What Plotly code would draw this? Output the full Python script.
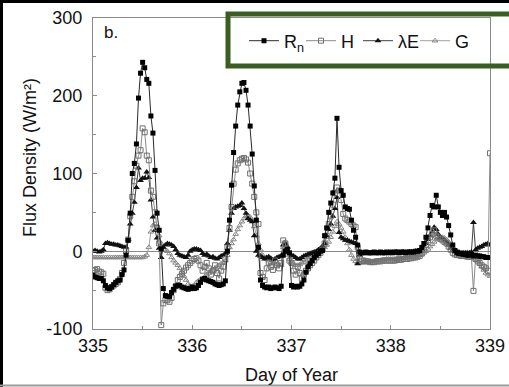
import plotly.graph_objects as go

# ---------------- data (half-hourly, day 335.0 .. 339.0) ----------------
rn_335 = [-31,-33,-34,-35,-35,-38,-44,-47,-48,-46,-43,-40,-38,-37,-30,-24,-5,14,49,100,113,138,197,229,243,236,221,216,174,152,104,49,27,3,-48,-57,-58,-58,-53,-49,-45,-44,-44,-46,-47,-48,-49,-48]
rn_336 = [-46,-48,-47,-44,-40,-36,-35,-37,-38,-39,-40,-42,-43,-44,-43,-42,-38,0,40,85,127,161,188,205,216,217,207,188,161,125,84,40,5,-37,-44,-46,-47,-46,-48,-47,-46,-47,-48,-45,-5,0,2,-2]
rn_337 = [-44,-46,-45,-46,-45,-42,-37,-27,-20,-16,-12,-8,-5,-3,0,1,20,30,50,62,75,94,171,108,78,72,57,55,54,40,27,18,8,-1,-2,-2,-1,-2,-2,-2,-1,-2,-2,-1,-2,-2,-1,-2]
rn_338 = [-1,-2,-1,-1,-2,-1,-1,-2,-1,-1,-1,-1,0,0,1,5,10,18,30,46,59,57,72,57,50,46,50,44,33,21,8,1,-2,-3,-3,-4,-4,-5,-5,-4,-6,-5,-6,-6,-7,-7,-8,-8]
rn_end = [-8]

h_335 = [-25,-24,-23,-26,-27,-29,-47,-50,-49,-46,-44,-42,-40,-36,-28,-15,0,15,45,70,90,110,123,130,158,153,123,117,78,70,50,30,10,-95,-67,-63,-63,-65,-60,-50,-45,-37,-33,-29,-25,-21,-18,-15]
h_336 = [-12,-10,-9,-12,-18,-25,-20,-15,-22,-30,-25,-18,-28,-35,-25,-20,-10,5,30,57,87,105,113,117,119,120,118,114,100,87,70,50,35,-28,-33,-37,-22,-15,-20,-24,-12,-18,-22,-15,14,10,-3,-12]
h_337 = [-15,-25,-30,-20,-28,-35,-30,-25,-22,-18,-15,-12,-8,-5,-2,2,10,20,35,45,60,75,82,78,66,48,42,40,38,35,33,31,5,-10,-12,-12,-13,-13,-14,-14,-14,-13,-13,-13,-12,-12,-12,-12]
h_338 = [-12,-12,-12,-11,-11,-11,-10,-10,-10,-9,-9,-8,-8,-7,-6,-3,2,8,14,18,22,27,20,18,16,14,12,10,6,2,-2,-4,-5,-5,-6,-6,-6,-7,-7,-7,-51,-10,-12,-15,-18,-20,-22,-25]
h_end = [126]

le_335 = [0,1,0,-1,0,2,10,11,10,9,9,8,8,7,6,5,5,15,35,49,63,82,107,91,94,94,102,95,66,44,27,17,4,-8,5,8,10,9,8,6,2,-3,-5,-6,-7,-8,-5,0]
le_336 = [2,3,3,2,1,-3,-5,-4,-6,-8,-7,-9,-10,-8,-6,-5,-3,10,27,49,55,57,58,59,62,55,49,42,40,38,20,0,-5,-6,-8,-10,-8,-7,-9,-11,-10,-8,-7,-6,8,10,5,-2]
le_337 = [-5,-6,-8,-10,-10,-8,-6,-5,-4,-3,-2,-1,0,2,4,6,10,20,28,35,45,55,69,24,18,16,14,14,13,12,11,10,-16,-5,-3,-2,-2,-2,-2,-2,-2,-2,-2,-2,-2,-2,-2,-2]
le_338 = [-2,-2,-2,-1,-2,-2,-1,-2,-2,-1,-1,-1,0,0,1,3,6,10,15,20,25,31,28,22,18,16,14,12,8,4,1,0,-1,-1,-2,-2,-2,-2,-2,-1,37,2,4,5,6,8,9,10]
le_end = [8]

g_335 = [-8,-8,-8,-8,-8,-8,-8,-8,-8,-8,-8,-8,-8,-8,-8,-8,-8,-8,-8,-8,-8,-8,-8,-8,-8,-7,-5,5,25,33,35,30,20,10,5,2,0,-3,-8,-12,-15,-18,-22,-27,-32,-37,-42,-45]
g_336 = [-45,-44,-40,-38,-36,-35,-33,-30,-28,-26,-24,-22,-20,-18,-16,-14,-12,-5,5,10,15,22,28,33,38,42,45,46,44,40,32,20,10,2,-5,-8,-10,-12,-14,-15,-16,-17,-18,-18,5,12,6,-10]
g_337 = [-15,-16,-18,-18,-17,-15,-14,-12,-10,-8,-6,-5,-3,-2,0,2,5,8,12,18,25,32,38,35,30,25,18,10,2,-5,-10,-13,-15,-15,-15,-14,-14,-14,-13,-13,-13,-12,-12,-12,-11,-11,-10,-10]
g_338 = [-10,-10,-10,-9,-9,-9,-9,-8,-8,-8,-7,-7,-7,-6,-5,-4,-2,0,3,6,9,12,15,17,18,18,17,15,12,8,5,2,0,-2,-3,-4,-5,-6,-6,-7,-8,-10,-12,-16,-20,-24,-28,-30]
g_end = [-32]

rn = rn_335 + rn_336 + rn_337 + rn_338 + rn_end
h = h_335 + h_336 + h_337 + h_338 + h_end
le = le_335 + le_336 + le_337 + le_338 + le_end
g = g_335 + g_336 + g_337 + g_338 + g_end
day = [335 + i / 48 for i in range(len(rn))]

x_ticks = [335, 336, 337, 338, 339]
y_ticks = [-100, 0, 100, 200, 300]

# ---------------- layout geometry ----------------
W, H = 509, 387
L, R, T, B = 93, 19, 18, 58
pw, ph = W - L - R, H - T - B

def px(x):
    return (x - L) / pw

def py(y):
    return (H - B - y) / ph

FONT = "Liberation Sans, Arial, sans-serif"

fig = go.Figure()
# added in reverse so R_n is drawn on top; legend reversed to keep order
fig.add_trace(go.Scatter(x=day, y=g, name="G", mode="lines+markers",
                         line=dict(color="#a0a0a0", width=1),
                         marker=dict(symbol="triangle-up-open", size=5, color="#888888",
                                     line=dict(width=1))))
fig.add_trace(go.Scatter(x=day, y=le, name="λE", mode="lines+markers",
                         line=dict(color="#404040", width=1),
                         marker=dict(symbol="triangle-up", size=6, color="#111111")))
fig.add_trace(go.Scatter(x=day, y=h, name="H", mode="lines+markers",
                         line=dict(color="#8a8a8a", width=1),
                         marker=dict(symbol="square-open", size=5, color="#707070",
                                     line=dict(width=1))))
fig.add_trace(go.Scatter(x=day, y=rn, name="R<sub>n</sub>", mode="lines+markers",
                         line=dict(color="#2a2a2a", width=1),
                         marker=dict(symbol="square", size=5, color="#000000")))

axis_common = dict(showline=True, linecolor="#8a8a8a", linewidth=1, mirror=True,
                   ticks="inside", ticklen=4, tickcolor="#8a8a8a", showgrid=False,
                   automargin=False,
                   tickfont=dict(family=FONT, size=18, color="#111111"))

fig.update_xaxes(range=[335, 339], tickvals=x_ticks, ticktext=[str(v) for v in x_ticks],
                 minor=dict(ticks="inside", ticklen=3, dtick=0.5, tick0=335, tickcolor="#8a8a8a"),
                 zeroline=False,
                 title=dict(text="Day of Year", font=dict(family=FONT, size=18, color="#111111"),
                            standoff=13),
                 **axis_common)
fig.update_yaxes(range=[-100, 300], tickvals=y_ticks, ticktext=[str(v) for v in y_ticks],
                 minor=dict(ticks="inside", ticklen=3, dtick=50, tick0=0, tickcolor="#8a8a8a"),
                 zeroline=True, zerolinecolor="#8a8a8a", zerolinewidth=1,
                 ticklabelstandoff=6,
                 **axis_common)

fig.update_layout(
    width=W, height=H,
    margin=dict(l=L, r=R, t=T, b=B),
    paper_bgcolor="white", plot_bgcolor="white",
    showlegend=True,
    legend=dict(orientation="h", traceorder="reversed", x=px(244), xanchor="left",
                y=py(41), yanchor="middle", bgcolor="rgba(0,0,0,0)",
                font=dict(family=FONT, size=18, color="#111111"),
                itemwidth=30, tracegroupgap=0, entrywidth=12, entrywidthmode="pixels"),
    annotations=[
        dict(text="Flux Density (W/m²)", textangle=-90, xref="paper", yref="paper",
             x=px(30), y=py(158), xanchor="center", yanchor="middle", showarrow=False,
             font=dict(family=FONT, size=18, color="#111111")),
        dict(text="b.", xref="paper", yref="paper", x=px(102), y=py(33),
             xanchor="left", yanchor="middle", showarrow=False,
             font=dict(family=FONT, size=17, color="#111111")),
    ],
    shapes=[
        # green highlight box
        dict(type="rect", xref="paper", yref="paper", x0=px(228), x1=px(516),
             y0=py(14), y1=py(66), line=dict(color="#3a5e1f", width=5),
             fillcolor="rgba(0,0,0,0)"),
        # outer image frame
        dict(type="line", xref="paper", yref="paper", x0=px(1.5), x1=px(1.5),
             y0=py(0), y1=py(387), line=dict(color="#000000", width=3)),
        dict(type="line", xref="paper", yref="paper", x0=px(0), x1=px(509),
             y0=py(1.5), y1=py(1.5), line=dict(color="#000000", width=3)),
        dict(type="line", xref="paper", yref="paper", x0=px(0), x1=px(509),
             y0=py(385.5), y1=py(385.5), line=dict(color="#9a9a9a", width=2)),
    ],
)

fig.write_html("out.html")
